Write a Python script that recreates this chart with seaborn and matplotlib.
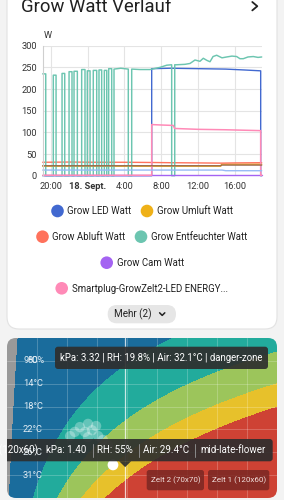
import numpy as np
import pandas as pd
import matplotlib
matplotlib.use("Agg")
import matplotlib.pyplot as plt
import seaborn as sns
from matplotlib.patches import FancyBboxPatch, Circle, Polygon
from matplotlib.colors import ListedColormap

# ---------------- power history (hours since 17 Sept 00:00, watts) ----------------
series_names = ["Grow LED Watt", "Grow Umluft Watt", "Grow Abluft Watt",
                "Grow Entfeuchter Watt", "Grow Cam Watt",
                "Smartplug-GrowZelt2-LED ENERGY...", "Grow Zusatz 1 Watt", "Grow Zusatz 2 Watt"]
series_colors = ["#4269d0", "#efb118", "#ff725c", "#6cc5b0", "#a463f2",
                 "#ff8ab7", "#97bbf5", "#9c6b4e"]

led_h = [19.13, 30.96, 30.96, 33.0, 36.0, 39.0, 41.0, 42.79, 42.79, 42.9]
led_w = [0, 0, 247, 248, 247, 246, 244, 242, 0, 0]

umluft_h = [19.13, 38.45, 38.55, 42.9]
umluft_w = [22, 22, 26.5, 26.5]

abluft_h = [19.13, 22.0, 25.0, 28.0, 30.96, 33.0, 36.0, 38.5, 40.0, 42.9]
abluft_w = [31, 31.5, 31, 31, 30.5, 30, 29.5, 29, 29.5, 30]

entf_h = ([19.13, 19.46, 19.46]
          + [20.28, 20.28, 20.58, 20.58]
          + [21.23, 21.23, 21.52, 21.52]
          + [21.99, 21.99, 22.31, 22.31]
          + [22.53, 22.53, 22.89, 22.89]
          + [23.36, 23.36, 23.72, 23.72]
          + [23.97, 23.97, 24.27, 24.27]
          + [24.62, 24.62, 24.99, 24.99]
          + [25.24, 25.24, 25.53, 25.53]
          + [25.82, 25.82, 26.08, 26.08]
          + [26.29, 26.29, 26.62, 26.62]
          + [26.87, 26.87, 27.6, 28.42, 28.42]
          + [28.79, 28.79, 29.69, 30.78, 31.86, 32.59, 33.13, 33.13]
          + [33.46, 33.46, 33.67, 34.57, 35.12, 35.66, 36.20, 36.56, 36.96, 37.29, 37.62,
             38.01, 38.59, 39.10, 39.67, 40.18, 40.54, 40.90, 41.41, 41.99, 42.50, 42.9])
entf_w = ([235, 235, 0]
          + [0, 232, 232, 0]
          + [0, 236, 236, 0]
          + [0, 240, 240, 0]
          + [0, 241, 241, 0]
          + [0, 245, 245, 0]
          + [0, 242, 242, 0]
          + [0, 243, 243, 0]
          + [0, 244, 244, 0]
          + [0, 243, 243, 0]
          + [0, 247, 247, 0]
          + [0, 246, 248, 246, 0]
          + [0, 246, 245, 245, 250, 255, 256, 0]
          + [0, 256, 256, 257, 259, 267, 264, 271, 266, 263, 275,
             278, 272, 274, 276, 275, 270, 270, 274, 275, 273, 274])

cam_h = [19.13, 42.9]
cam_w = [1, 1]

plug_h = [19.13, 30.96, 30.96, 32.0, 33.3, 33.45, 36.0, 39.0, 42.79, 42.79, 42.9]
plug_w = [1, 1, 118, 117, 116, 109, 107, 106, 104, 1, 1]

extra1_h = [19.13, 38.6, 39.0, 42.9]
extra1_w = [13, 13, 11.5, 11.5]

extra2_h = [19.13, 38.45, 38.55, 42.9]
extra2_w = [23, 23, 24.5, 24.5]

x_ticks = [20, 24, 28, 32, 36, 40]
x_tick_labels = ["20:00", "18. Sept.", "4:00", "8:00", "12:00", "16:00"]
y_ticks = [0, 50, 100, 150, 200, 250, 300]

# ---------------- VPD chart ----------------
vpd_thresholds = [0, 0.4, 0.8, 1.2, 1.6]
vpd_colors = ["#999999", "#1a6c9c", "#22ab9c", "#9cc55b", "#e7c12b", "#ce4234"]
rh_range = [90, 10]
temp_range = [5, 35]
leaf_offset = 2
temp_tick_labels = ["9°C", "14°C", "18°C", "22°C", "26°C", "31°C"]
ghost_rh = [69.9, 68.4, 66.9, 66.0, 64.8, 63.6, 63.0, 61.6, 60.1, 66.0, 71.3]
ghost_t = [22.6, 21.7, 22.6, 21.1, 22.3, 21.5, 23.4, 24.1, 25.1, 23.6, 23.4]
current_rh = [58.6]
current_t = [28.8]
tip1 = {"kpa": 3.32, "rh": 19.8, "air": 32.1, "phase": "danger-zone"}
tip2 = {"tent": "Zelt 1 (120x60)", "kpa": 1.40, "rh": 55, "air": 29.4, "phase": "mid-late-flower"}
tent_buttons = ["Zelt 2 (70x70)", "Zelt 1 (120x60)"]

# ---------------- style ----------------
sns.set_style("white")
plt.rcParams['font.family'] = ['Roboto', 'DejaVu Sans']

W, H = 284, 500
fig = plt.figure(figsize=(W / 100, H / 100), dpi=100)
fig.patch.set_facecolor('#f3f3f3')


def prect(x0, y0, x1, y1):
    return [x0 / W, 1 - y1 / H, (x1 - x0) / W, (y1 - y0) / H]


def fs(px):
    return px * 0.72


bg = fig.add_axes([0, 0, 1, 1], zorder=0)
bg.set_xlim(0, W)
bg.set_ylim(H, 0)
bg.axis('off')

bg.add_patch(FancyBboxPatch((7, -20), 270, 349, boxstyle="round,pad=0,rounding_size=12",
                            fc='white', ec='#e2e2e2', lw=0.8))
bg.text(20.7, 11.7, "Grow Watt Verlauf", fontsize=fs(18.5), color='#212121', va='baseline', ha='left')
bg.plot([252.3, 257.3, 252.3], [2.0, 6.2, 10.4], color='#222222', lw=1.3, solid_capstyle='round')
bg.text(44.0, 36.0, "W", fontsize=fs(9.2), color='#333333', va='center', ha='left')

# ---------------- line chart ----------------
ax = fig.add_axes(prect(42.7, 45.7, 261.7, 175.7), zorder=1)
ax.patch.set_alpha(0)
all_h = [led_h, umluft_h, abluft_h, entf_h, cam_h, plug_h, extra1_h, extra2_h]
all_w = [led_w, umluft_w, abluft_w, entf_w, cam_w, plug_w, extra1_w, extra2_w]
widths = [1.0, 1.0, 1.0, 1.05, 1.0, 1.1, 1.0, 1.0]
for name, hh, ww, col, lw in zip(series_names, all_h, all_w, series_colors, widths):
    df = pd.DataFrame({"Zeit": hh, "Watt": ww, "Serie": name})
    sns.lineplot(data=df, x="Zeit", y="Watt", ax=ax, color=col, linewidth=lw,
                 estimator=None, sort=False, clip_on=False)
ax.set_xlim(19.13, 42.9)
ax.set_ylim(0, 300)
ax.set_xlabel("")
ax.set_ylabel("")
ax.set_xticks(x_ticks)
ax.set_xticklabels(x_tick_labels, fontsize=fs(9.3), color='#333333')
ax.get_xticklabels()[1].set_fontweight('bold')
ax.set_yticks(y_ticks)
ax.set_yticklabels([str(v) for v in y_ticks], fontsize=fs(9.3), color='#333333')
ax.tick_params(axis='y', length=3, width=0.8, color='#cfcfcf', pad=1.2)
ax.tick_params(axis='x', length=0, pad=4.5)
ax.grid(True, color='#e4e4e4', lw=0.8)
ax.set_axisbelow(True)
for s in ['top', 'right', 'bottom']:
    ax.spines[s].set_visible(False)
ax.spines['left'].set_color('#cfcfcf')
ax.spines['left'].set_linewidth(0.8)

# ---------------- legend (custom centred rows) ----------------
legend_pos = [(57.5, 211.0, 67.3), (147.0, 211.0, 156.8), (42.5, 236.7, 52.5),
              (141.0, 236.7, 151.0), (106.7, 262.7, 116.6), (61.7, 288.3, 71.6)]
for (cx, cy, tx), name, col in zip(legend_pos, series_names[:6], series_colors[:6]):
    bg.add_patch(Circle((cx, cy), 6.3, fc=col, ec='none'))
    bg.text(tx, cy + 0.3, name, fontsize=fs(9.7), color='#212121', va='center', ha='left')

bg.add_patch(FancyBboxPatch((107.7, 305), 68.3, 18.3, boxstyle="round,pad=0,rounding_size=9.1",
                            fc='#e6e6e6', ec='none'))
bg.text(114.5, 314.3, "Mehr (%d)" % (len(series_names) - 6), fontsize=fs(9.9), color='#222222',
        va='center', ha='left')
bg.plot([159.6, 162.2, 164.8], [312.8, 315.4, 312.8], color='#222222', lw=1.1, solid_capstyle='round')

# ---------------- VPD chart ----------------
vx = fig.add_axes(prect(7, 338, 277, 498), zorder=2)
fg = fig.add_axes([0, 0, 1, 1], zorder=3)
fg.set_xlim(0, W)
fg.set_ylim(H, 0)
fg.axis('off')
fg.patch.set_alpha(0)
clip = FancyBboxPatch((7, 338), 270, 160, boxstyle="round,pad=0,rounding_size=9",
                      transform=fg.transData)


def svp(t):
    return 0.6108 * np.exp(17.27 * t / (t + 237.3))


rh = np.linspace(rh_range[0], rh_range[1], 541)
tt = np.linspace(temp_range[0], temp_range[1], 321)
vpd = svp(tt[:, None] - leaf_offset) - rh[None, :] / 100.0 * svp(tt[:, None])
zone = np.digitize(vpd, vpd_thresholds)
im = vx.imshow(zone, cmap=ListedColormap(vpd_colors), vmin=-0.5, vmax=len(vpd_colors) - 0.5,
               extent=[rh_range[0], rh_range[1], temp_range[1], temp_range[0]],
               aspect='auto', interpolation='nearest')
im.set_clip_path(clip)
vx.set_xlim(rh_range[0], rh_range[1])
vx.set_ylim(temp_range[1], temp_range[0])
vx.axis('off')

n_rh, n_t = 9, 7
rh_grid = [rh_range[0] + (rh_range[1] - rh_range[0]) * k / n_rh for k in range(1, n_rh)]
t_grid = [temp_range[0] + (temp_range[1] - temp_range[0]) * k / n_t for k in range(1, n_t)]
for g in rh_grid:
    ln = vx.axvline(g, color='white', alpha=0.22, lw=0.7)
    ln.set_clip_path(clip)
for g in t_grid:
    ln = vx.axhline(g, color='white', alpha=0.22, lw=0.7)
    ln.set_clip_path(clip)
ch = vx.axvline(tip2["rh"], color='white', alpha=0.75, lw=0.9)
ch.set_clip_path(clip)

sns.scatterplot(x=ghost_rh, y=ghost_t, ax=vx, s=55, color='white', alpha=0.3,
                edgecolor='none', legend=False)
sns.scatterplot(x=current_rh, y=current_t, ax=vx, s=60, color='white', alpha=1.0,
                edgecolor='none', legend=False)
vx.set_xlim(rh_range[0], rh_range[1])
vx.set_ylim(temp_range[1], temp_range[0])

# temperature labels
for g, lab in zip(t_grid, temp_tick_labels):
    y = 338 + (g - temp_range[0]) / (temp_range[1] - temp_range[0]) * 160
    fg.text(23.0, y, lab, fontsize=fs(9.3), color='#e4eef5', va='center', ha='left')
fg.text(28.0, 338 + (t_grid[0] - temp_range[0]) / 30 * 160, "80%", fontsize=fs(9.3),
        color='#e4eef5', va='center', ha='left')

# tooltip 1
fg.add_patch(FancyBboxPatch((55, 346.7), 213, 22.3, boxstyle="round,pad=0,rounding_size=3",
                            fc='#2e2e2e', ec='none', alpha=0.92))
fg.text(161.5, 358.0, "kPa: %.2f | RH: %.1f%% | Air: %.1f°C | %s" %
        (tip1["kpa"], tip1["rh"], tip1["air"], tip1["phase"]),
        fontsize=fs(9.6), color='white', va='center', ha='center')

# tooltip 2 (clipped at card edge)
tb = FancyBboxPatch((0, 439), 272.7, 22.3, boxstyle="round,pad=0,rounding_size=3",
                    fc='#2e2e2e', ec='none', alpha=0.92)
fg.add_patch(tb)
tb.set_clip_path(clip)
x_tip = 7 + (rh_range[0] - tip2["rh"]) / (rh_range[0] - rh_range[1]) * 270
y_tip = 338 + (tip2["air"] - temp_range[0]) / (temp_range[1] - temp_range[0]) * 160
fg.add_patch(Polygon([(x_tip - 6, 461.2), (x_tip + 6, 461.2), (x_tip, y_tip - 1)],
                     closed=True, fc='#2e2e2e', ec='none', alpha=0.92))
parts = [(37.5, tip2["tent"], 'right'), (46.0, "kPa: %.2f" % tip2["kpa"], 'left'),
         (97.0, "RH: %d%%" % tip2["rh"], 'left'), (143.0, "Air: %.1f°C" % tip2["air"], 'left'),
         (200.0, tip2["phase"], 'left')]
for xx, s, ha in parts:
    t = fg.text(xx, 450.3, s, fontsize=fs(9.8), color='white', va='center', ha=ha)
    t.set_clip_path(clip)
for xx in [92.7, 139.3, 195.0]:
    fg.plot([xx, xx], [443.5, 457.0], color='#8a8a8a', lw=0.7)

# tent buttons
for (x0, x1), lab in zip([(146.7, 204.0), (208.0, 269.3)], tent_buttons):
    fg.add_patch(FancyBboxPatch((x0, 470.0), x1 - x0, 20.3, boxstyle="round,pad=0,rounding_size=2.5",
                                fc='#7a2823', ec='none', alpha=0.85))
    fg.text((x0 + x1) / 2, 480.3, lab, fontsize=fs(8.0), color='#f2e0dd', va='center', ha='center')

fig.savefig("out.png", dpi=100, facecolor=fig.get_facecolor())
